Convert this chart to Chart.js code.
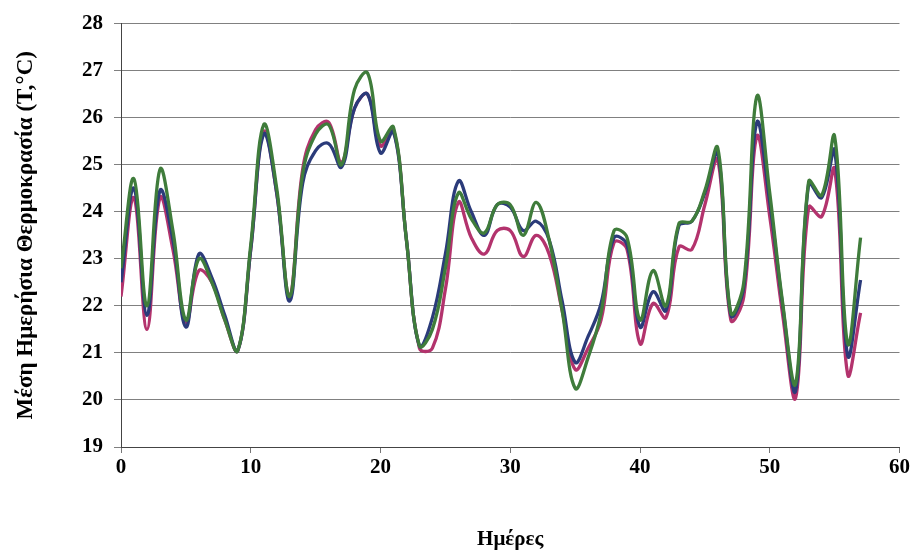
<!DOCTYPE html>
<html>
<head>
<meta charset="utf-8">
<script src="https://cdn.jsdelivr.net/npm/chart.js@4/dist/chart.umd.min.js"></script>
<style>
html,body{margin:0;padding:0;background:#fff;}
#wrap{width:912px;height:554px;}
</style>
</head>
<body>
<div id="wrap"><canvas id="c" width="912" height="554"></canvas></div>
<script>
const days = [0,1,2,3,4,5,6,7,8,9,10,11,12,13,14,15,16,17,18,19,20,21,22,23,24,25,26,27,28,29,30,31,32,33,34,35,36,37,38,39,40,41,42,43,44,45,46,47,48,49,50,51,52,53,54,55,56,57];
const greenSeries = [22.8,24.7,22.0,24.9,23.6,21.7,23.0,22.5,21.7,21.05,23.3,25.85,24.5,22.2,24.8,25.65,25.85,25.0,26.6,26.95,25.5,25.8,23.4,21.15,21.5,22.8,24.4,23.85,23.55,24.15,24.15,23.5,24.2,23.4,21.9,20.25,20.9,21.85,23.6,23.45,21.7,22.75,22.0,23.75,23.8,24.45,25.35,21.85,22.5,26.45,24.4,22.05,20.35,24.65,24.35,25.6,21.2,23.45];
const blueSeries = [22.5,24.5,21.8,24.45,23.4,21.55,23.1,22.6,21.8,21.05,23.2,25.65,24.4,22.1,24.6,25.3,25.45,24.95,26.2,26.5,25.25,25.7,23.4,21.15,21.75,23.1,24.65,24.0,23.5,24.15,24.1,23.6,23.8,23.4,22.1,20.8,21.35,22.05,23.45,23.3,21.55,22.3,21.9,23.7,23.8,24.4,25.25,21.8,22.4,25.9,24.2,22.0,20.2,24.6,24.3,25.3,20.95,22.55];
const magentaSeries = [22.2,24.3,21.5,24.3,23.2,21.65,22.75,22.5,21.7,21.05,23.2,25.7,24.4,22.2,24.9,25.75,25.9,25.05,26.2,26.5,25.4,25.75,23.4,21.1,21.1,22.35,24.2,23.45,23.1,23.6,23.6,23.05,23.5,23.1,21.9,20.65,21.1,21.7,23.35,23.2,21.2,22.05,21.75,23.25,23.2,24.15,25.1,21.7,22.2,25.6,23.9,21.8,20.05,24.1,23.9,24.9,20.55,21.85];
const xTicks = [0,10,20,30,40,50,60];
const yTicks = [19,20,21,22,23,24,25,26,27,28];
const xTitle = 'Ημέρες';
const yTitle = 'Μέση Ημερήσια Θερμοκρασία (T,°C)';

function pts(vals){ return days.map((d,i)=>({x:d,y:vals[i]})); }
const fontFam = '"Liberation Serif", "DejaVu Serif", serif';

new Chart(document.getElementById('c'), {
  type: 'line',
  data: {
    datasets: [
      {label:'green', data: pts(greenSeries), borderColor:'#3f7c3b', borderWidth:3.3, pointRadius:0, tension:0.4, fill:false},
      {label:'blue', data: pts(blueSeries), borderColor:'#2b3b7a', borderWidth:3.3, pointRadius:0, tension:0.4, fill:false},
      {label:'magenta', data: pts(magentaSeries), borderColor:'#b3336d', borderWidth:3.3, pointRadius:0, tension:0.4, fill:false}
    ]
  },
  options: {
    responsive:false,
    animation:false,
    layout:{padding:{top:23,right:12,left:0,bottom:0}},
    plugins:{legend:{display:false},tooltip:{enabled:false}},
    scales:{
      x:{
        type:'linear', min:0, max:60,
        afterBuildTicks(s){ s.ticks = xTicks.map(v=>({value:v})); },
        afterFit(s){ s.height = 107; },
        grid:{drawOnChartArea:false, drawTicks:true, tickLength:6, color:'#777'},
        border:{display:true, color:'#444', width:1},
        ticks:{padding:2, color:'#000', font:{family:fontFam, size:21, weight:'bold'}},
        title:{display:true, text:xTitle, color:'#000', padding:{top:0,bottom:2}, font:{family:fontFam, size:21, weight:'bold'}}
      },
      y:{
        type:'linear', min:19, max:28,
        afterBuildTicks(s){ s.ticks = yTicks.map(v=>({value:v})); },
        afterFit(s){ s.width = 121; },
        grid:{drawOnChartArea:true, drawTicks:true, tickLength:7, color:'#808080', lineWidth:1},
        border:{display:true, color:'#444', width:1},
        ticks:{padding:11, color:'#000', font:{family:fontFam, size:21, weight:'bold'}},
        title:{display:true, text:yTitle, color:'#000', padding:{top:12,bottom:0}, font:{family:fontFam, size:23, weight:'bold'}}
      }
    }
  }
});
</script>
</body>
</html>
